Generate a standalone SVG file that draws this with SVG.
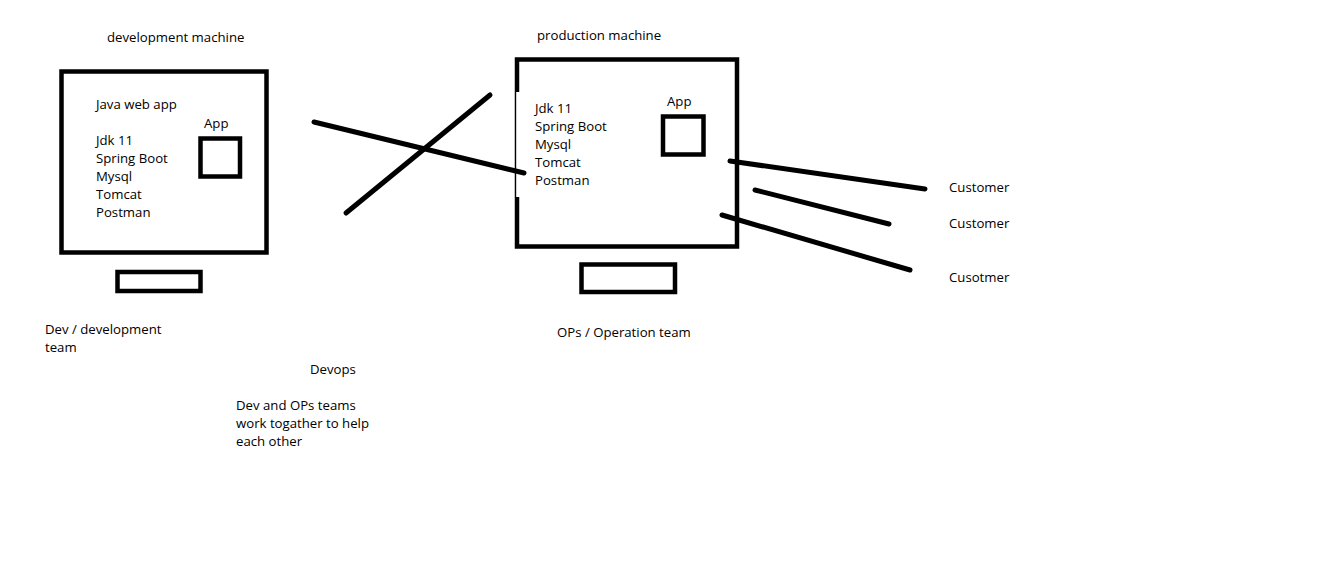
<svg xmlns="http://www.w3.org/2000/svg" width="1330" height="574" viewBox="0 0 1330 574">
<style>
  text { font-family: "Open Sans", "Noto Sans", sans-serif; font-size: 13.2px; fill: #000; }
  .box { fill: none; stroke: #000; stroke-width: 4.5; }
  .ln { stroke: #000; stroke-width: 5; stroke-linecap: round; fill: none; }
</style>
<rect width="1330" height="574" fill="#fff"/>
<g id="dev-machine">
  <text x="107" y="42">development machine</text>
  <rect class="box" x="61.5" y="71.5" width="205" height="181"/>
  <text x="96" y="109">Java web app</text>
  <text x="96" y="145">Jdk 11</text>
  <text x="96" y="163">Spring Boot</text>
  <text x="96" y="181">Mysql</text>
  <text x="96" y="199">Tomcat</text>
  <text x="96" y="217">Postman</text>
  <text x="204" y="128">App</text>
  <rect class="box" x="200.5" y="138.5" width="39.5" height="38"/>
  <rect class="box" x="117.5" y="272" width="83" height="19"/>
  <text x="45" y="334">Dev / development</text>
  <text x="45" y="352">team</text>
</g>
<g id="prod-machine">
  <text x="537" y="40">production machine</text>
  <rect class="box" x="517" y="59.5" width="220" height="187"/>
  <rect x="516.2" y="92" width="4" height="105" fill="#fff"/>
  <text x="535" y="113">Jdk 11</text>
  <text x="535" y="131">Spring Boot</text>
  <text x="535" y="149">Mysql</text>
  <text x="535" y="167">Tomcat</text>
  <text x="535" y="185">Postman</text>
  <text x="667" y="106">App</text>
  <rect class="box" x="663" y="116.5" width="40.5" height="38"/>
  <rect class="box" x="581.5" y="264.5" width="93.5" height="27.5"/>
  <text x="557" y="337">OPs / Operation team</text>
</g>
<g id="devops">
  <text x="310" y="374">Devops</text>
  <text x="236" y="410">Dev and OPs teams</text>
  <text x="236" y="428">work togather to help</text>
  <text x="236" y="446">each other</text>
</g>
<g id="customers">
  <text x="949" y="192">Customer</text>
  <text x="949" y="228">Customer</text>
  <text x="949" y="282">Cusotmer</text>
</g>
<g id="connectors">
  <line class="ln" x1="314" y1="122" x2="524" y2="173"/>
  <line class="ln" x1="490" y1="95" x2="346" y2="213"/>
  <line class="ln" x1="730" y1="161" x2="925" y2="189"/>
  <line class="ln" x1="755" y1="190" x2="889" y2="224"/>
  <line class="ln" x1="722" y1="215" x2="910" y2="270"/>
</g>
</svg>
